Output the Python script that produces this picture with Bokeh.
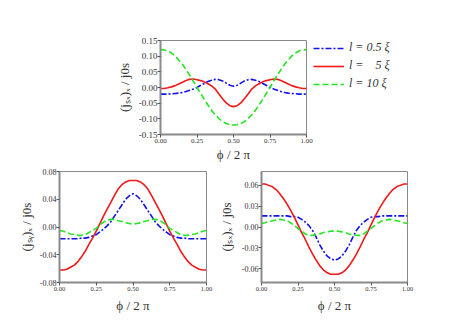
from bokeh.plotting import figure
from bokeh.models import FixedTicker, PrintfTickFormatter, Legend, LegendItem, Spacer, Range1d
from bokeh.layouts import column, row
from bokeh.embed import file_html
from bokeh.resources import INLINE

phi = [0.000, 0.025, 0.050, 0.075, 0.100, 0.125, 0.150, 0.175, 0.200, 0.225, 0.250,
       0.275, 0.300, 0.325, 0.350, 0.375, 0.400, 0.425, 0.450, 0.475, 0.500,
       0.525, 0.550, 0.575, 0.600, 0.625, 0.650, 0.675, 0.700, 0.725, 0.750,
       0.775, 0.800, 0.825, 0.850, 0.875, 0.900, 0.925, 0.950, 0.975, 1.000]

# (j_Sx)_x / j0s
sx_l05 = [-0.021, -0.021, -0.021, -0.020, -0.019, -0.018, -0.016, -0.013, -0.009, -0.005, 0.000,
          0.007, 0.013, 0.019, 0.023, 0.026, 0.025, 0.021, 0.014, 0.007, 0.004,
          0.007, 0.014, 0.021, 0.025, 0.026, 0.023, 0.019, 0.013, 0.007, 0.000,
          -0.005, -0.009, -0.013, -0.016, -0.018, -0.019, -0.020, -0.021, -0.021, -0.021]
sx_l5 = [-0.003, -0.003, -0.001, 0.002, 0.006, 0.011, 0.017, 0.022, 0.026, 0.027, 0.025,
         0.022, 0.018, 0.012, 0.005, -0.005, -0.021, -0.036, -0.049, -0.058, -0.061,
         -0.058, -0.049, -0.036, -0.021, -0.005, 0.005, 0.012, 0.018, 0.022, 0.025,
         0.027, 0.026, 0.022, 0.017, 0.011, 0.006, 0.002, -0.001, -0.003, -0.003]
sx_l10 = [0.121, 0.120, 0.117, 0.110, 0.101, 0.088, 0.074, 0.057, 0.039, 0.020, 0.000,
          -0.019, -0.038, -0.056, -0.073, -0.087, -0.099, -0.109, -0.115, -0.119, -0.120,
          -0.119, -0.115, -0.109, -0.099, -0.087, -0.073, -0.056, -0.038, -0.019, 0.000,
          0.020, 0.039, 0.057, 0.074, 0.088, 0.101, 0.110, 0.117, 0.120, 0.121]

# (j_Sy)_x / j0s
sy_l05 = [-0.017, -0.017, -0.017, -0.017, -0.017, -0.017, -0.016, -0.016, -0.015, -0.013, -0.011,
          -0.007, -0.003, 0.002, 0.008, 0.016, 0.024, 0.032, 0.040, 0.045, 0.048,
          0.045, 0.040, 0.032, 0.024, 0.016, 0.008, 0.002, -0.003, -0.007, -0.011,
          -0.013, -0.015, -0.016, -0.016, -0.017, -0.017, -0.017, -0.017, -0.017, -0.017]
sy_l5 = [-0.062, -0.062, -0.061, -0.058, -0.055, -0.050, -0.043, -0.035, -0.025, -0.016, -0.006,
         0.005, 0.016, 0.026, 0.036, 0.046, 0.055, 0.061, 0.065, 0.067, 0.067,
         0.067, 0.065, 0.061, 0.055, 0.046, 0.036, 0.026, 0.016, 0.005, -0.006,
         -0.016, -0.025, -0.035, -0.043, -0.050, -0.055, -0.058, -0.061, -0.062, -0.062]
sy_l10 = [-0.005, -0.006, -0.008, -0.010, -0.011, -0.012, -0.012, -0.011, -0.008, -0.005, -0.002,
          0.003, 0.007, 0.010, 0.011, 0.011, 0.009, 0.008, 0.006, 0.005, 0.004,
          0.005, 0.006, 0.008, 0.009, 0.011, 0.011, 0.010, 0.007, 0.003, -0.002,
          -0.005, -0.008, -0.011, -0.012, -0.012, -0.011, -0.010, -0.008, -0.006, -0.005]

# (j_Sz)_x / j0s
sz_l05 = [0.016, 0.016, 0.016, 0.016, 0.016, 0.016, 0.016, 0.016, 0.015, 0.015, 0.014,
          0.011, 0.007, 0.002, -0.005, -0.015, -0.026, -0.035, -0.042, -0.046, -0.048,
          -0.046, -0.042, -0.035, -0.026, -0.015, -0.005, 0.002, 0.007, 0.011, 0.014,
          0.015, 0.015, 0.016, 0.016, 0.016, 0.016, 0.016, 0.016, 0.016, 0.016]
sz_l5 = [0.062, 0.062, 0.060, 0.058, 0.054, 0.048, 0.041, 0.033, 0.024, 0.014, 0.003,
         -0.008, -0.018, -0.029, -0.039, -0.048, -0.056, -0.062, -0.066, -0.068, -0.068,
         -0.068, -0.066, -0.062, -0.056, -0.048, -0.039, -0.029, -0.018, -0.008, 0.003,
         0.014, 0.024, 0.033, 0.041, 0.048, 0.054, 0.058, 0.060, 0.062, 0.062]
sz_l10 = [0.005, 0.006, 0.008, 0.009, 0.010, 0.011, 0.010, 0.009, 0.006, 0.002, -0.002,
          -0.006, -0.010, -0.012, -0.012, -0.011, -0.010, -0.008, -0.007, -0.006, -0.006,
          -0.006, -0.007, -0.008, -0.010, -0.011, -0.012, -0.012, -0.010, -0.006, -0.002,
          0.002, 0.006, 0.009, 0.010, 0.011, 0.010, 0.009, 0.008, 0.006, 0.005]

x_ticks = [0.0, 0.25, 0.5, 0.75, 1.0]
sx_ticks = [-0.15, -0.10, -0.05, 0.0, 0.05, 0.10, 0.15]
sy_ticks = [-0.08, -0.04, 0.0, 0.04, 0.08]
sz_ticks = [-0.06, -0.03, 0.0, 0.03, 0.06]

labels = ["l = 0.5 \u03be", "l = \u2007 5 \u03be", "l = 10 \u03be"]
x_label = "\u03d5 / 2 \u03c0"

FONT = "Liberation Serif"
AX = "#8a8a8a"
BLUE = "#1010f0"
RED = "#f01818"
GREEN = "#22e622"
STYLES = [dict(line_color=BLUE, line_width=1.6, line_dash="6 2 2 2"),
          dict(line_color=RED, line_width=1.6),
          dict(line_color=GREEN, line_width=1.6, line_dash="6 3")]


def make_fig(width, height, l, r, t, b, ylim, yticks, ylabel, ysize, xsize, ystand, xstand):
    p = figure(width=width, height=height, min_border_left=l, min_border_right=r,
               min_border_top=t, min_border_bottom=b,
               x_range=Range1d(0, 1), y_range=Range1d(*ylim),
               output_backend="svg", toolbar_location=None)
    p.grid.visible = False
    p.outline_line_color = AX
    p.outline_line_width = 1
    p.xaxis.ticker = FixedTicker(ticks=x_ticks)
    p.yaxis.ticker = FixedTicker(ticks=yticks)
    p.xaxis.formatter = PrintfTickFormatter(format="%.2f")
    p.yaxis.formatter = PrintfTickFormatter(format="%.2f")
    p.xaxis.axis_label = x_label
    p.yaxis.axis_label = ylabel
    for ax in (p.xaxis, p.yaxis):
        ax.axis_line_color = AX
        ax.axis_line_width = 2
        ax.major_tick_line_color = "#555555"
        ax.major_tick_in = 0
        ax.major_tick_out = 3
        ax.minor_tick_line_color = None
        ax.major_label_text_font = FONT
        ax.major_label_text_color = "#333333"
        ax.axis_label_text_font = FONT
        ax.axis_label_text_font_style = "normal"
        ax.axis_label_text_color = "#333333"
        ax.axis_label_text_font_size = "13px"
    p.yaxis.major_label_text_font_size = ysize
    p.xaxis.major_label_text_font_size = xsize
    p.yaxis.major_label_standoff = 0
    p.xaxis.major_label_standoff = 1
    p.yaxis.axis_label_standoff = ystand
    p.xaxis.axis_label_standoff = xstand
    return p


def add_lines(p, y05, y5, y10):
    return [p.line(phi, ys, **st) for ys, st in zip((y05, y5, y10), STYLES)]


# top plot
top = make_fig(68 + 146 + 7, 164, 68, 7, 25, 26, (-0.15, 0.15), sx_ticks,
               "(j\u209b\u2093)\u2093 / j0s", "9px", "7px", 4, 1)
add_lines(top, sx_l05, sx_l5, sx_l10)

# legend panel: its own small figure, no axes; its lines lie outside its view
leg = figure(width=110, height=164, min_border_left=0, min_border_right=0,
             min_border_top=40, min_border_bottom=0,
             x_range=Range1d(0, 1), y_range=Range1d(1, 2),
             x_axis_location=None, y_axis_location=None, outline_line_color=None,
             output_backend="svg", toolbar_location=None)
leg.grid.visible = False
leg_rs = add_lines(leg, sx_l05, sx_l5, sx_l10)
legend = Legend(items=[LegendItem(label=lab, renderers=[r]) for lab, r in zip(labels, leg_rs)],
                location="top_left", border_line_color=None, background_fill_alpha=0,
                padding=0, margin=0, glyph_width=31, glyph_height=14, label_height=14,
                label_standoff=5, spacing=3, label_text_font=FONT,
                label_text_font_style="italic", label_text_font_size="12px",
                label_text_color="#333333")
leg.add_layout(legend)

# bottom left
bl = make_fig(59 + 147 + 9, 151, 59, 9, 7, 32, (-0.08, 0.08), sy_ticks,
              "(j\u209b\u1d67)\u2093 / j0s", "8px", "6.5px", 3, 4)
add_lines(bl, sy_l05, sy_l5, sy_l10)

# bottom right
br = make_fig(45 + 147 + 20, 151, 45, 20, 7, 32, (-0.08, 0.08), sz_ticks,
              "(j\u209b\u2093)\u2093 / j0s", "8px", "6.5px", 5, 4)
add_lines(br, sz_l05, sz_l5, sz_l10)

layout = column(row(Spacer(width=92, height=164), top, leg), row(bl, br))

open("out.html", "w").write(file_html(layout, INLINE))
